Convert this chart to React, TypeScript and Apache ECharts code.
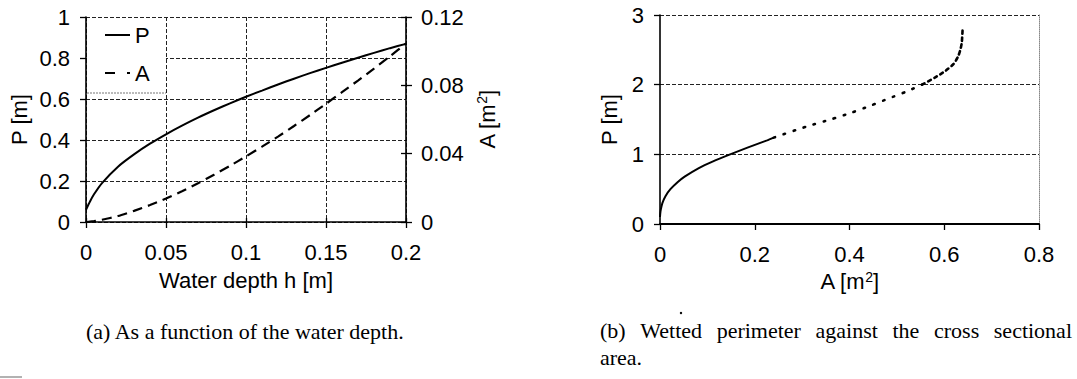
import React, { useEffect, useRef } from "react";
import * as echarts from "echarts";

// ---- Data ----
// (a) P and A as a function of water depth h
const depth = [0, 0.0025, 0.005, 0.01, 0.02, 0.03, 0.04, 0.05, 0.06, 0.07, 0.08, 0.09, 0.1, 0.11, 0.12, 0.13, 0.14, 0.15, 0.16, 0.17, 0.18, 0.19, 0.2];
const perimeter = [0.06, 0.1, 0.135, 0.19, 0.27, 0.33, 0.382, 0.428, 0.47, 0.509, 0.545, 0.579, 0.611, 0.641, 0.671, 0.699, 0.726, 0.752, 0.777, 0.801, 0.825, 0.848, 0.869];
const area = [0, 0.0002, 0.0005, 0.0013, 0.0035, 0.0065, 0.0099, 0.0137, 0.018, 0.0227, 0.0277, 0.0329, 0.0384, 0.0441, 0.05, 0.0562, 0.0626, 0.0692, 0.076, 0.0828, 0.0898, 0.097, 0.1045];

// (b) P against A  (three line styles along the curve)
const areaSolid = [0, 0.0005, 0.0018, 0.005, 0.0115, 0.022, 0.037, 0.052, 0.081, 0.112, 0.148, 0.186, 0.226, 0.24];
const perimSolid = [0.1, 0.15, 0.21, 0.3, 0.4, 0.5, 0.6, 0.68, 0.8, 0.9, 1.0, 1.1, 1.2, 1.24];
const areaDotted = [0.24, 0.31, 0.36, 0.405, 0.445, 0.482, 0.52, 0.553];
const perimDotted = [1.24, 1.4, 1.5, 1.6, 1.7, 1.8, 1.9, 2.0];
const areaDense = [0.553, 0.58, 0.603, 0.62, 0.629, 0.634, 0.637, 0.638, 0.639];
const perimDense = [2.0, 2.1, 2.2, 2.3, 2.4, 2.5, 2.6, 2.7, 2.82];

const legendNames = ["P", "A"];
const captionA = "(a) As a function of the water depth.";
const captionB1 = "(b) Wetted perimeter against the cross sectional";
const captionB2 = "area.";

const SANS = "Liberation Sans";
const SERIF = "Liberation Serif";

function justifiedWords(text: string, font: string, x0: number, x1: number) {
  const words = text.split(" ");
  const cvs = document.createElement("canvas");
  const ctx = cvs.getContext("2d");
  let widths = words.map((w) => w.length * 10);
  if (ctx) {
    ctx.font = font;
    widths = words.map((w) => ctx.measureText(w).width);
  }
  const total = widths.reduce((a, b) => a + b, 0);
  const gap = (x1 - x0 - total) / (words.length - 1);
  const out: { word: string; x: number }[] = [];
  let x = x0;
  words.forEach((w, i) => {
    out.push({ word: w, x });
    x += widths[i] + gap;
  });
  return out;
}

export default function App() {
  const ref = useRef<HTMLDivElement>(null);

  useEffect(() => {
    if (!ref.current) return;
    const chart = echarts.init(ref.current, undefined, { renderer: "svg" });

    const labelStyle = { fontFamily: SANS, fontSize: 22, color: "#000" };
    const gridLine = { show: true, lineStyle: { color: "#222", width: 1, type: [4, 2] as any } };
    const blackLine = (w: number) => ({ show: true, onZero: false, lineStyle: { color: "#000", width: w } });
    const nameStyle = { fontFamily: SANS, fontSize: 22, color: "#000", rich: { sup: { fontFamily: SANS, fontSize: 14, color: "#000", padding: [0, 0, 10, 0] } } };
    const tick = (len: number, inside = false) => ({ show: true, inside, length: len, lineStyle: { color: "#000", width: 1.3 } });

    const captionFont = `22px "${SERIF}"`;
    const bWords = justifiedWords(captionB1, captionFont, 600, 1072);

    const graphics: any[] = [
      // legend box (white, covers grid lines)
      { type: "rect", z: 3, shape: { x: 87, y: 18, width: 79, height: 75 }, style: { fill: "#fff" } },
      { type: "line", z: 3, shape: { x1: 87, y1: 93, x2: 166, y2: 93 }, style: { stroke: "#777", lineWidth: 1, lineDash: [2, 1] } },
      { type: "text", x: 86, y: 331, style: { text: captionA, font: captionFont, fill: "#000", align: "left", verticalAlign: "middle" } },
      ...bWords.map((w) => ({ type: "text", x: w.x, y: 330, style: { text: w.word, font: captionFont, fill: "#000", align: "left", verticalAlign: "middle" } })),
      { type: "text", x: 600, y: 357, style: { text: captionB2, font: captionFont, fill: "#000", align: "left", verticalAlign: "middle" } },
      { type: "circle", shape: { cx: 681, cy: 313, r: 1.2 }, style: { fill: "#000" } },
      { type: "line", shape: { x1: 0, y1: 377, x2: 22, y2: 377 }, style: { stroke: "#999", lineWidth: 1.5 } },
    ];

    const option: any = {
      animation: false,
      backgroundColor: "#fff",
      grid: [
        { left: 86, right: 1077 - 406, top: 17, bottom: 379 - 222 },
        { left: 660, right: 1077 - 1039, top: 15, bottom: 379 - 224 },
      ],
      legend: {
        data: [
          { name: legendNames[0], icon: "path://M0,0H25V2H0Z" },
          { name: legendNames[1], icon: "path://M0,0H10V2H0Z M22,0H25V2H22Z" },
        ],
        orient: "vertical",
        left: 105,
        top: 24,
        padding: 0,
        itemWidth: 25,
        itemHeight: 2,
        itemGap: 16,
        z: 5,
        textStyle: { fontFamily: SANS, fontSize: 22, color: "#000" },
      },
      xAxis: [
        {
          gridIndex: 0, type: "value", min: 0, max: 0.2, interval: 0.05,
          axisLine: blackLine(1.6), axisTick: tick(6),
          axisLabel: { ...labelStyle, margin: 19 },
          splitLine: gridLine,
          name: "Water depth h [m]", nameLocation: "middle", nameGap: 47,
          nameTextStyle: nameStyle,
        },
        {
          gridIndex: 0, type: "value", min: 0, max: 0.2, interval: 0.05, position: "bottom",
          axisLine: { show: false, onZero: false }, axisTick: tick(4, true),
          axisLabel: { show: false }, splitLine: { show: false },
        },
        {
          gridIndex: 1, type: "value", min: 0, max: 0.8, interval: 0.2,
          axisLine: blackLine(2), axisTick: tick(6),
          axisLabel: { ...labelStyle, margin: 19 },
          splitLine: { show: false },
          name: "A [m{sup|2}]", nameLocation: "middle", nameGap: 45,
          nameTextStyle: nameStyle,
        },
      ],
      yAxis: [
        {
          gridIndex: 0, type: "value", min: 0, max: 1, interval: 0.2, position: "left",
          axisLine: blackLine(1.6), axisTick: tick(6),
          axisLabel: { ...labelStyle, margin: 16 },
          splitLine: gridLine,
          name: "P [m]", nameLocation: "middle", nameGap: 56, nameRotate: 90,
          nameTextStyle: nameStyle,
        },
        {
          gridIndex: 0, type: "value", min: 0, max: 0.12, interval: 0.04, position: "right",
          axisLine: blackLine(1.6), axisTick: tick(6),
          axisLabel: { ...labelStyle, margin: 15 },
          splitLine: { show: false },
          name: "A [m{sup|2}]", nameLocation: "middle", nameGap: 69, nameRotate: 90,
          nameTextStyle: nameStyle,
        },
        {
          gridIndex: 0, type: "value", min: 0, max: 0.12, interval: 0.04, position: "right",
          axisLine: { show: false, onZero: false }, axisTick: tick(5, true),
          axisLabel: { show: false }, splitLine: { show: false },
        },
        {
          gridIndex: 1, type: "value", min: 0, max: 3, interval: 1, position: "left",
          axisLine: blackLine(1.6), axisTick: tick(6),
          axisLabel: { ...labelStyle, margin: 16 },
          splitLine: gridLine,
          name: "P [m]", nameLocation: "middle", nameGap: 40, nameRotate: 90,
          nameTextStyle: nameStyle,
        },
        {
          gridIndex: 1, type: "value", min: 0, max: 3, interval: 1, position: "right",
          axisLine: { show: true, onZero: false, lineStyle: { color: "#888", width: 1, type: [1, 1] } },
          axisTick: { show: false }, axisLabel: { show: false }, splitLine: { show: false },
        },
      ],
      series: [
        {
          name: "P", type: "line", xAxisIndex: 0, yAxisIndex: 0, symbol: "none", smooth: 0.2,
          data: depth.map((h, i) => [h, perimeter[i]]),
          lineStyle: { color: "#000", width: 2 }, itemStyle: { color: "#000" },
        },
        {
          name: "A", type: "line", xAxisIndex: 0, yAxisIndex: 1, symbol: "none", smooth: 0.2,
          data: depth.map((h, i) => [h, area[i]]),
          lineStyle: { color: "#000", width: 2.2, type: [10, 6] }, itemStyle: { color: "#000" },
        },
        {
          name: "Psolid", type: "line", xAxisIndex: 2, yAxisIndex: 3, symbol: "none", smooth: 0.2,
          data: areaSolid.map((a, i) => [a, perimSolid[i]]),
          lineStyle: { color: "#000", width: 2 },
        },
        {
          name: "Pdotted", type: "line", xAxisIndex: 2, yAxisIndex: 3, symbol: "none", smooth: 0.2,
          data: areaDotted.map((a, i) => [a, perimDotted[i]]),
          lineStyle: { color: "#000", width: 2.6, type: [1.5, 9], cap: "round" },
        },
        {
          name: "Pdense", type: "line", xAxisIndex: 2, yAxisIndex: 3, symbol: "none", smooth: 0.2,
          data: areaDense.map((a, i) => [a, perimDense[i]]),
          lineStyle: { color: "#000", width: 2.6, type: [3, 4], cap: "round" },
        },
      ],
      graphic: graphics,
    };

    chart.setOption(option);
    return () => chart.dispose();
  }, []);

  return (
    <div
      ref={ref}
      style={{ position: "fixed", left: 0, top: 0, width: 1077, height: 379, background: "#fff" }}
    />
  );
}
